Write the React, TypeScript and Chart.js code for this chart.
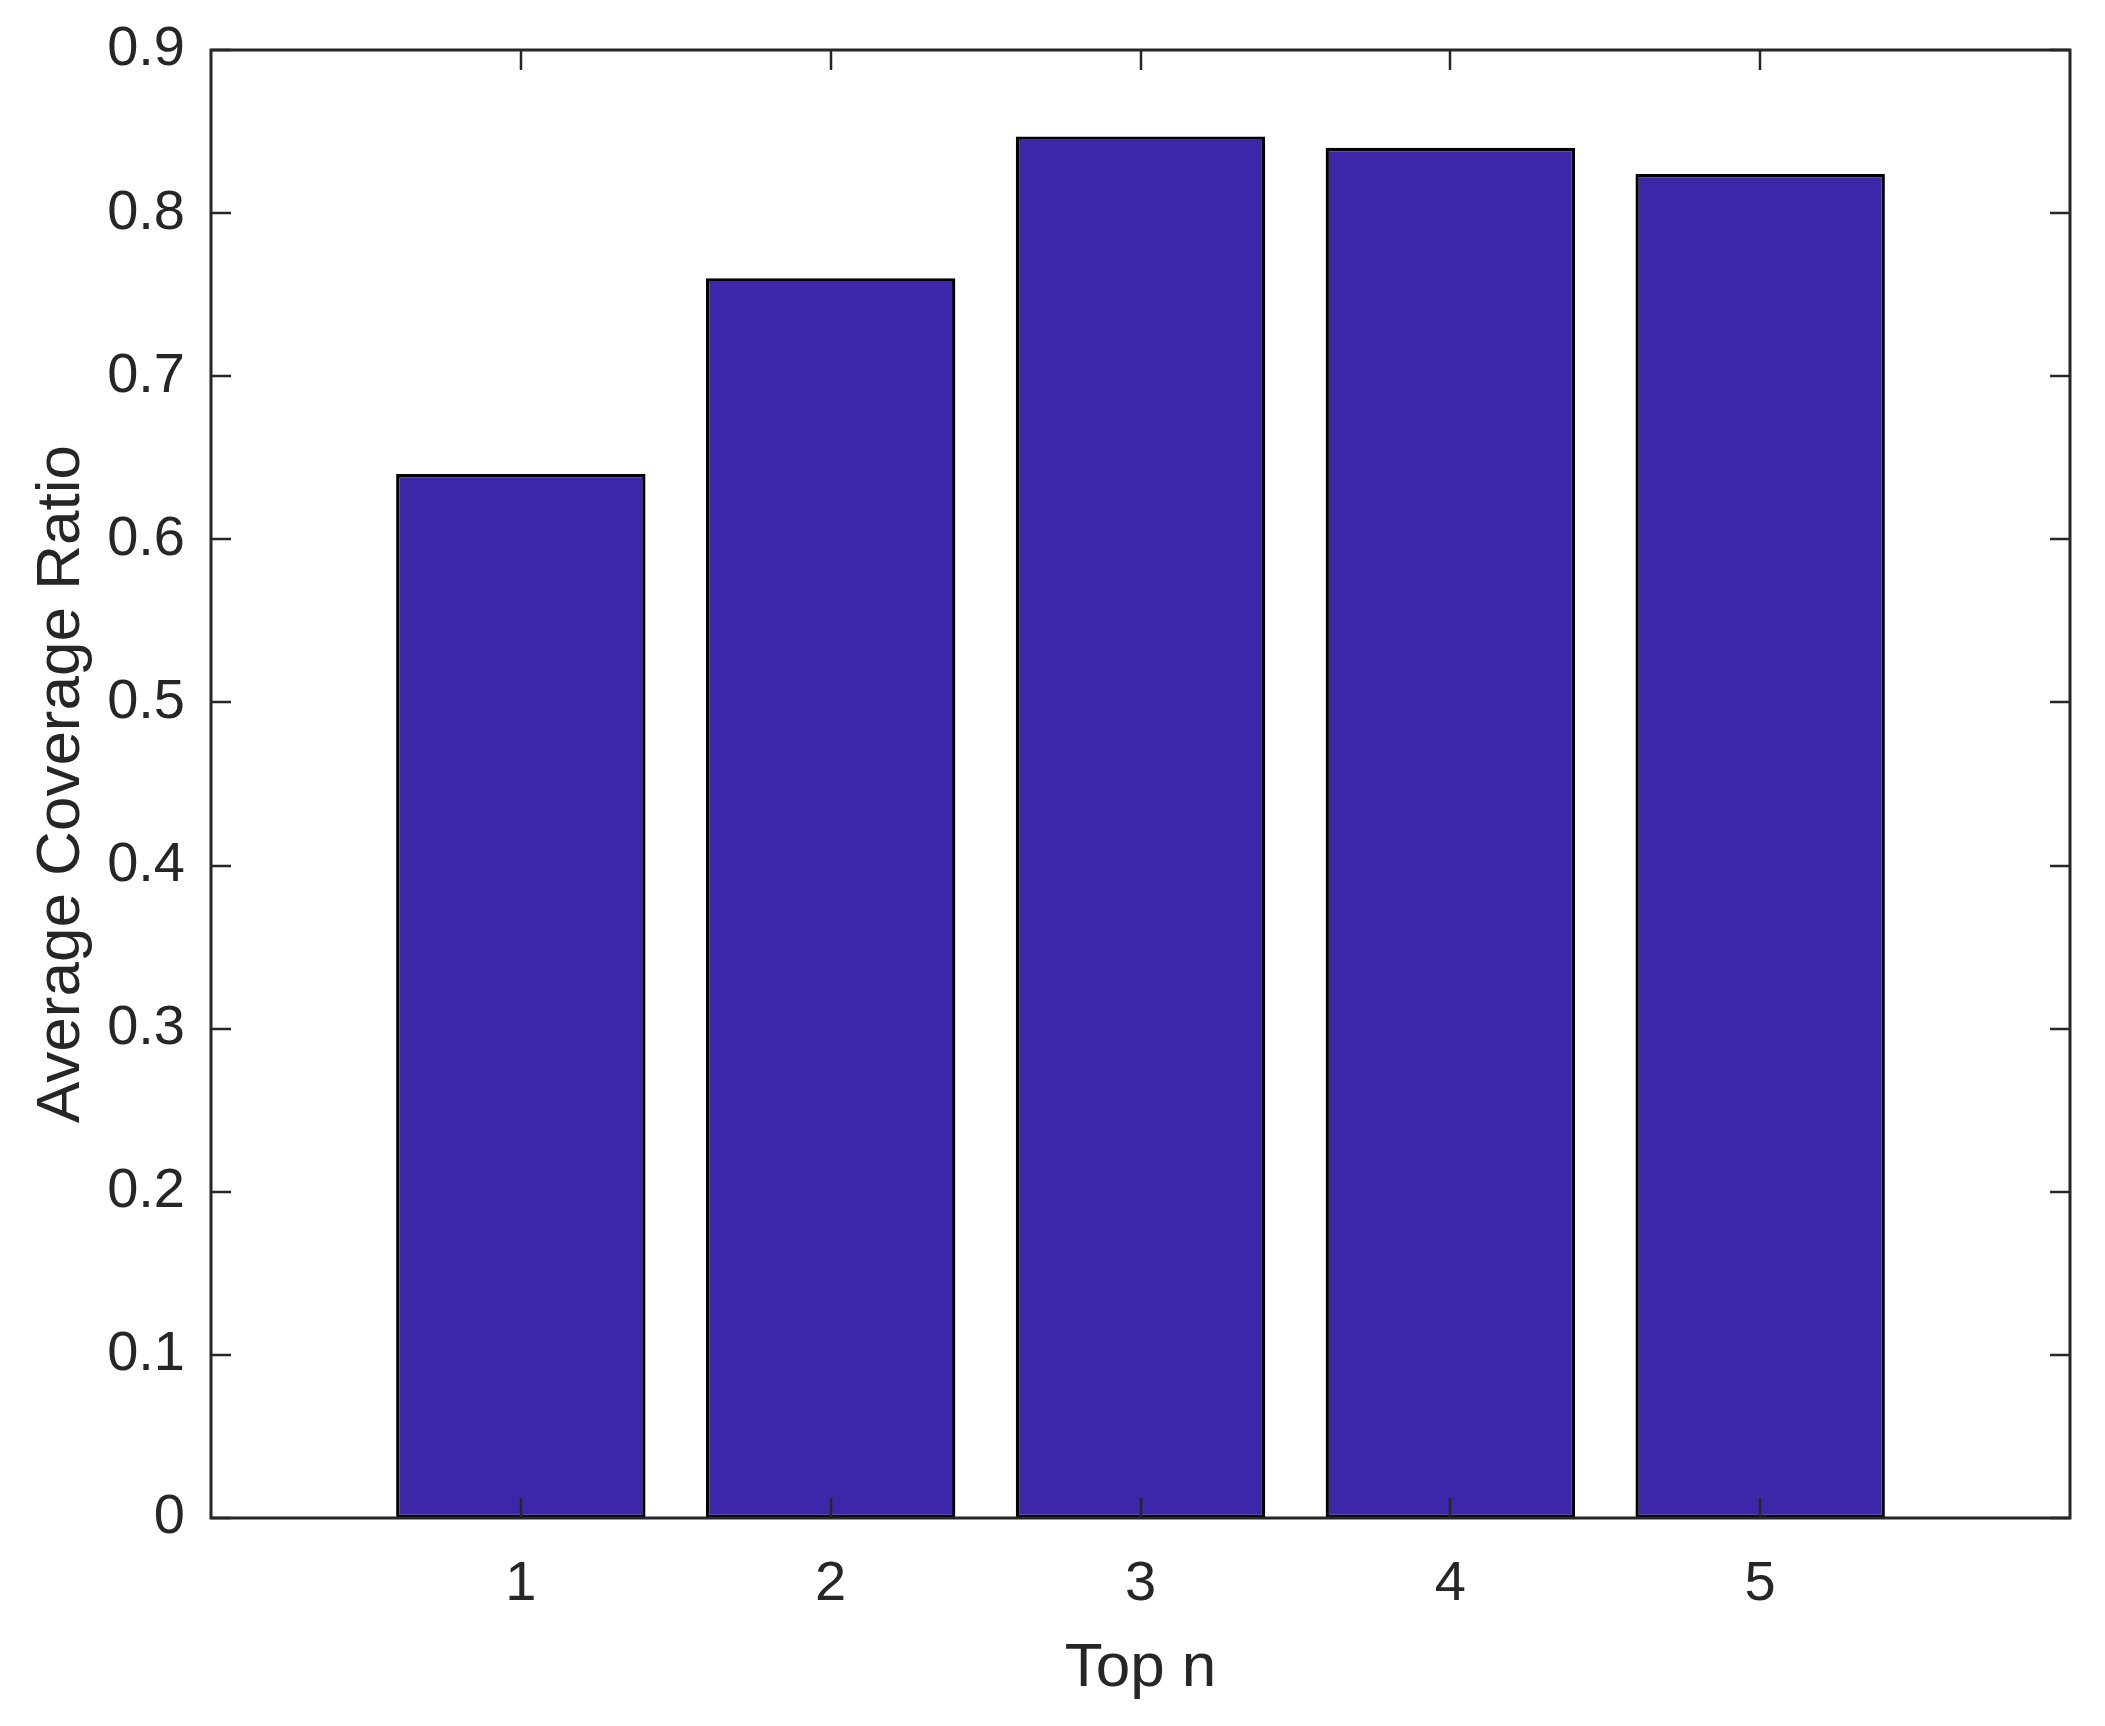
import React, { useEffect, useRef } from "react";
import { Chart, registerables } from "chart.js";

Chart.register(...registerables);

const categories = [1, 2, 3, 4, 5];
const coverageValues = [0.64, 0.76, 0.847, 0.84, 0.824];
const yTickValues = [0, 0.1, 0.2, 0.3, 0.4, 0.5, 0.6, 0.7, 0.8, 0.9];
const xTickValues = [1, 2, 3, 4, 5];
const xAxisTitle = "Top n";
const yAxisTitle = "Average Coverage Ratio";

const W = 2105;
const H = 1726;
const AXIS_COLOR = "#262626";
const FONT = "'Liberation Sans', Arial, Helvetica, sans-serif";

const framePlugin = {
  id: "matlabFrame",
  afterDatasetsDraw(chart: any) {
    const { ctx, chartArea, scales } = chart;
    const { left, right, top, bottom } = chartArea;
    const tl = 20;
    ctx.save();
    ctx.strokeStyle = AXIS_COLOR;
    ctx.lineWidth = 2.5;
    ctx.beginPath();
    for (const v of yTickValues) {
      const y = Math.round(scales.y.getPixelForValue(v));
      ctx.moveTo(left, y);
      ctx.lineTo(left + tl, y);
      ctx.moveTo(right, y);
      ctx.lineTo(right - tl, y);
    }
    for (const v of xTickValues) {
      const x = Math.round(scales.x.getPixelForValue(v));
      ctx.moveTo(x, bottom);
      ctx.lineTo(x, bottom - tl);
      ctx.moveTo(x, top);
      ctx.lineTo(x, top + tl);
    }
    ctx.stroke();
    ctx.lineWidth = 3;
    ctx.strokeRect(left, top, right - left, bottom - top);
    ctx.restore();
  },
};

export default function App() {
  const canvasRef = useRef<HTMLCanvasElement | null>(null);

  useEffect(() => {
    const canvas = canvasRef.current;
    if (!canvas) return;
    Chart.defaults.font.family = FONT;
    Chart.defaults.color = AXIS_COLOR;
    const chart = new Chart(canvas, {
      type: "bar",
      data: {
        datasets: [
          {
            data: categories.map((c, i) => ({ x: c, y: coverageValues[i] })),
            backgroundColor: "rgb(62,38,168)",
            borderColor: "#000000",
            borderWidth: 3.3,
            borderSkipped: false,
            barPercentage: 0.805,
            categoryPercentage: 1,
          },
        ],
      },
      options: {
        responsive: false,
        animation: false,
        devicePixelRatio: 1,
        layout: { padding: { top: 50, right: 35, left: 0, bottom: 0 } },
        plugins: {
          legend: { display: false },
          tooltip: { enabled: false },
        },
        scales: {
          x: {
            type: "linear",
            min: 0,
            max: 6,
            offset: false,
            grid: { display: false, drawTicks: false, offset: false },
            border: { display: false },
            ticks: {
              stepSize: 1,
              padding: 33,
              color: AXIS_COLOR,
              font: { size: 56, family: FONT },
              maxRotation: 0,
              autoSkip: false,
              callback: (v: any) => (v >= 1 && v <= 5 ? String(v) : ""),
            },
            title: {
              display: true,
              text: xAxisTitle,
              color: AXIS_COLOR,
              font: { size: 62, family: FONT, lineHeight: 1.2 },
              padding: { top: 0, bottom: 20 },
            },
            afterFit: (scale: any) => {
              scale.height = 208;
              scale.paddingLeft = 0;
              scale.paddingRight = 0;
            },
          },
          y: {
            type: "linear",
            min: 0,
            max: 0.9,
            grid: { display: false, drawTicks: false },
            border: { display: false },
            ticks: {
              stepSize: 0.1,
              padding: 26,
              color: AXIS_COLOR,
              font: { size: 56, family: FONT },
              autoSkip: false,
              callback: (v: any) => (Math.abs(v) < 1e-9 ? "0" : Number(v).toFixed(1)),
            },
            title: {
              display: true,
              text: yAxisTitle,
              color: AXIS_COLOR,
              font: { size: 62, family: FONT, lineHeight: 1.2 },
              padding: { top: 25, bottom: 0 },
            },
            afterFit: (scale: any) => {
              scale.width = 211;
              scale.paddingTop = 0;
              scale.paddingBottom = 0;
            },
          },
        },
      },
      plugins: [framePlugin],
    });
    return () => chart.destroy();
  }, []);

  return (
    <div
      style={{
        position: "fixed",
        left: 0,
        top: 0,
        width: W,
        height: H,
        background: "#ffffff",
      }}
    >
      <canvas ref={canvasRef} width={W} height={H} style={{ width: W, height: H, display: "block" }} />
    </div>
  );
}
